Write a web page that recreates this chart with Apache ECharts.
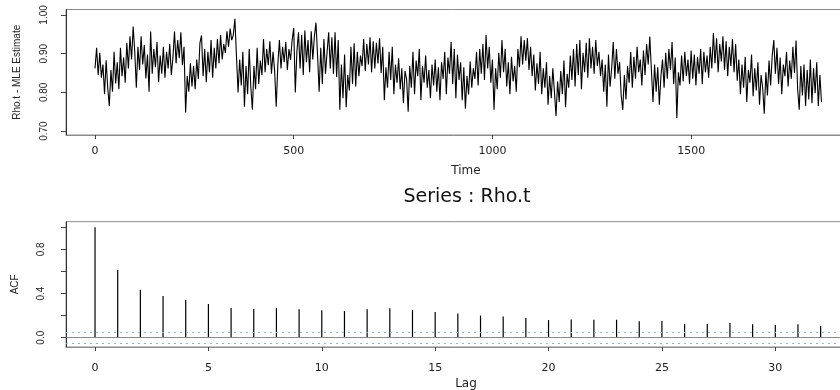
<!DOCTYPE html>
<html><head><meta charset="utf-8">
<script src="https://cdn.jsdelivr.net/npm/echarts@6/dist/echarts.min.js"></script>
<style>html,body{margin:0;padding:0;background:#fff}#c{width:840px;height:390px}</style>
</head><body><div id="c"></div>
<script>
// ---- data ----
const timeStep = 4; // one value read every 4 time units
const rho = [
0.862,0.915,0.845,0.902,0.838,0.872,0.795,0.883,0.812,0.765,0.858,0.802,0.905,0.823,0.878,0.808,0.915,0.842,0.890,0.825,0.928,0.862,0.945,0.885,0.970,
0.905,0.812,0.918,0.858,0.945,0.872,0.922,0.836,0.898,0.802,0.957,0.848,0.912,0.865,0.930,0.826,0.895,0.848,0.918,0.838,0.905,0.862,0.925,0.845,0.889,
0.957,0.875,0.935,0.888,0.955,0.870,0.918,0.748,0.842,0.802,0.875,0.815,0.868,0.808,0.885,0.835,0.928,0.947,0.842,0.912,0.826,0.905,0.852,0.935,0.838,
0.915,0.862,0.938,0.875,0.948,0.885,0.925,0.902,0.958,0.918,0.965,0.935,0.948,0.990,0.892,0.800,0.885,0.818,0.905,0.763,0.868,0.795,0.912,0.815,0.755,
0.868,0.808,0.915,0.822,0.882,0.845,0.938,0.852,0.912,0.870,0.932,0.848,0.905,0.855,0.763,0.872,0.935,0.862,0.918,0.878,0.930,0.858,0.912,0.884,0.935,
0.966,0.800,0.905,0.955,0.862,0.948,0.845,0.960,0.878,0.935,0.852,0.958,0.885,0.945,0.980,0.895,0.802,0.915,0.822,0.938,0.848,0.905,0.955,0.862,0.942,
0.848,0.955,0.840,0.935,0.755,0.872,0.785,0.898,0.762,0.845,0.805,0.918,0.822,0.927,0.815,0.905,0.842,0.895,0.868,0.938,0.855,0.925,0.872,0.942,0.852,
0.932,0.862,0.928,0.875,0.940,0.850,0.918,0.780,0.865,0.812,0.905,0.832,0.918,0.795,0.872,0.825,0.888,0.808,0.862,0.772,0.855,0.835,0.750,0.868,0.812,
0.905,0.795,0.882,0.842,0.912,0.780,0.868,0.825,0.895,0.812,0.858,0.785,0.872,0.818,0.885,0.802,0.865,0.780,0.878,0.835,0.905,0.795,0.890,0.848,0.930,
0.822,0.912,0.785,0.898,0.832,0.878,0.780,0.865,0.758,0.842,0.795,0.880,0.812,0.862,0.835,0.905,0.818,0.912,0.848,0.925,0.832,0.948,0.862,0.918,0.825,
0.885,0.755,0.862,0.808,0.902,0.838,0.935,0.852,0.912,0.815,0.878,0.795,0.892,0.828,0.868,0.802,0.912,0.865,0.945,0.872,0.935,0.882,0.940,0.858,0.918,
0.842,0.898,0.805,0.875,0.822,0.905,0.795,0.862,0.812,0.878,0.768,0.842,0.785,0.862,0.802,0.739,0.828,0.775,0.855,0.795,0.882,0.762,0.848,0.812,0.895,
0.832,0.912,0.815,0.925,0.845,0.935,0.808,0.902,0.852,0.928,0.838,0.940,0.862,0.918,0.848,0.935,0.868,0.905,0.842,0.885,0.802,0.872,0.763,0.898,0.815,
0.862,0.930,0.835,0.912,0.848,0.878,0.792,0.755,0.845,0.782,0.868,0.825,0.905,0.812,0.892,0.835,0.918,0.852,0.885,0.818,0.908,0.845,0.925,0.872,0.944,
0.858,0.775,0.872,0.802,0.865,0.768,0.842,0.885,0.812,0.902,0.835,0.912,0.858,0.930,0.822,0.890,0.734,0.852,0.818,0.895,0.828,0.905,0.842,0.885,0.822,
0.908,0.835,0.898,0.818,0.892,0.848,0.912,0.822,0.905,0.852,0.895,0.838,0.918,0.862,0.953,0.875,0.940,0.852,0.925,0.880,0.945,0.858,0.932,0.842,0.918,
0.868,0.938,0.852,0.925,0.830,0.885,0.795,0.872,0.812,0.892,0.775,0.858,0.825,0.898,0.790,0.862,0.805,0.878,0.768,0.845,0.812,0.745,0.852,0.792,0.882,
0.818,0.895,0.935,0.848,0.915,0.822,0.890,0.795,0.872,0.842,0.905,0.815,0.882,0.835,0.918,0.850,0.934,0.808,0.755,0.868,0.792,0.872,0.765,0.858,0.782,
0.885,0.772,0.862,0.798,0.878,0.765,0.845,0.775
];
const timeTicks = [0, 500, 1000, 1500];
const rhoTicks = [0.70, 0.80, 0.90, 1.00];

const lags = [0,1,2,3,4,5,6,7,8,9,10,11,12,13,14,15,16,17,18,19,20,21,22,23,24,25,26,27,28,29,30,31,32];
const acf = [1.000,0.613,0.435,0.377,0.341,0.305,0.269,0.260,0.269,0.257,0.248,0.242,0.257,0.266,0.250,0.232,0.220,0.200,0.193,0.178,0.160,0.166,0.163,0.163,0.148,0.151,0.124,0.124,0.133,0.121,0.115,0.121,0.106];
const lagTicks = [0, 5, 10, 15, 20, 25, 30];
const acfTicks = [0, 0.2, 0.4, 0.6, 0.8, 1.0];
const acfLabels = [0, 0.4, 0.8];
const ciBound = 0.046;

// ---- chart ----
const chart = echarts.init(document.getElementById('c'), null, {renderer: 'canvas'});
const tickFont = {fontFamily: 'DejaVu Sans', fontSize: 11, color: '#222'};
const vFont = {fontFamily: 'Liberation Sans', fontSize: 10, color: '#222'};
const boxColor = '#8a8a8a';

chart.setOption({
  animation: false,
  backgroundColor: '#fff',
  title: {
    text: 'Series : Rho.t',
    left: 462, top: 183, textAlign: 'center',
    textStyle: {fontFamily: 'DejaVu Sans', fontSize: 19, fontWeight: 'normal', color: '#111'}
  },
  grid: [
    {left: 66, top: 9.5, width: 800, height: 125.5, show: true, borderColor: boxColor, borderWidth: 1, containLabel: false, outerBoundsMode: 'none'},
    {left: 66, top: 221.7, width: 800, height: 125.3, show: true, borderColor: boxColor, borderWidth: 1, containLabel: false, outerBoundsMode: 'none'}
  ],
  xAxis: [
    {
      gridIndex: 0, type: 'value', min: -73, max: 1940, position: 'bottom',
      name: 'Time', nameLocation: 'middle', nameGap: 30,
      nameTextStyle: {fontFamily: 'DejaVu Sans', fontSize: 12, color: '#222'},
      axisLine: {show: true, onZero: false, lineStyle: {color: boxColor}},
      axisTick: {show: true, length: 4, customValues: timeTicks, lineStyle: {color: '#444'}},
      axisLabel: Object.assign({margin: 11, customValues: timeTicks, formatter: v => String(v)}, tickFont),
      splitLine: {show: false}
    },
    {
      gridIndex: 1, type: 'value', min: -1.28, max: 34, position: 'bottom',
      name: 'Lag', nameLocation: 'middle', nameGap: 31,
      nameTextStyle: {fontFamily: 'DejaVu Sans', fontSize: 12, color: '#222'},
      axisLine: {show: true, onZero: false, lineStyle: {color: boxColor}},
      axisTick: {show: true, length: 4, customValues: lagTicks, lineStyle: {color: '#444'}},
      axisLabel: Object.assign({margin: 16, customValues: lagTicks, formatter: v => String(v)}, tickFont),
      splitLine: {show: false}
    }
  ],
  yAxis: [
    {
      gridIndex: 0, type: 'value', min: 0.69, max: 1.014, position: 'left',
      name: 'Rho.t - MLE Estimate', nameLocation: 'middle', nameGap: 44, nameRotate: 90,
      nameTextStyle: {fontFamily: 'Liberation Sans', fontSize: 10, color: '#222'},
      axisLine: {show: true, onZero: false, lineStyle: {color: '#333'}},
      axisTick: {show: true, length: 5, customValues: rhoTicks, lineStyle: {color: '#444'}},
      axisLabel: Object.assign({margin: 17, rotate: 90, customValues: rhoTicks, formatter: v => v.toFixed(2)}, vFont),
      splitLine: {show: false}
    },
    {
      gridIndex: 1, type: 'value', min: -0.084, max: 1.05, position: 'left',
      name: 'ACF', nameLocation: 'middle', nameGap: 46, nameRotate: 90,
      nameTextStyle: {fontFamily: 'Liberation Sans', fontSize: 10, color: '#222'},
      axisLine: {show: true, onZero: false, lineStyle: {color: '#333'}},
      axisTick: {show: true, length: 5, customValues: acfTicks, lineStyle: {color: '#444'}},
      axisLabel: Object.assign({margin: 20, rotate: 90, customValues: acfLabels, formatter: v => v.toFixed(1)}, vFont),
      splitLine: {show: false}
    }
  ],
  series: [
    {
      type: 'line', xAxisIndex: 0, yAxisIndex: 0,
      data: rho.map((v, i) => [i * timeStep, v]),
      showSymbol: false, symbol: 'none',
      lineStyle: {color: '#000', width: 1.1},
      silent: true
    },
    {
      type: 'bar', xAxisIndex: 1, yAxisIndex: 1,
      data: lags.map((l, i) => [l, acf[i]]),
      barWidth: 1.2,
      itemStyle: {color: '#000'},
      silent: true,
      markLine: {
        silent: true, symbol: 'none', label: {show: false},
        data: [
          {yAxis: 0, lineStyle: {color: '#8a8a8a', type: 'solid', width: 1}},
          {yAxis: ciBound, lineStyle: {color: '#9db3d6', type: [2, 4], width: 1}},
          {yAxis: -ciBound, lineStyle: {color: '#9db3d6', type: [2, 4], width: 1}}
        ]
      }
    }
  ]
});
</script></body></html>
